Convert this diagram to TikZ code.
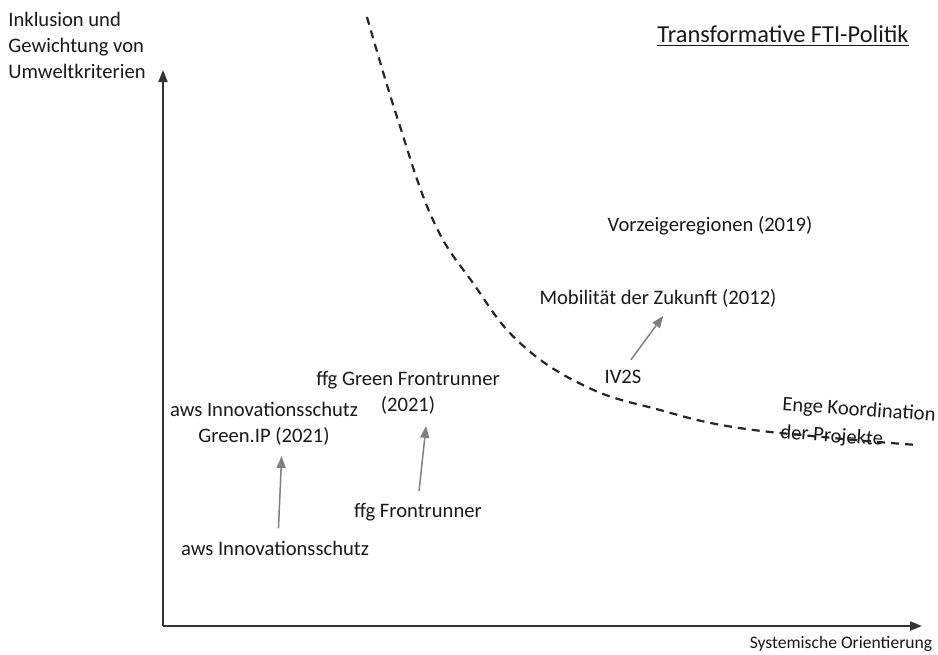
\documentclass[tikz,border=0pt]{standalone}
\usepackage{fontspec}
\setmainfont{Carlito}
\usepackage{tikz}
\usepackage{xcolor}
\usetikzlibrary{arrows.meta, positioning}

\begin{document}
\begin{tikzpicture}[x=0.5pt, y=-0.5pt, font=\fontsize{10.3}{13}\selectfont, text=black!90,
    lbl/.style={align=center, inner sep=1pt},
    axis/.style={line width=1pt, draw=black!80, -{Triangle[length=6pt, width=4.5pt]}},
    move/.style={draw=gray, line width=0.75pt, -{Triangle[length=6pt, width=4.5pt]}}]

        \useasboundingbox (0,0) rectangle (938,654);

        % axes
        \coordinate (O) at (163,626);
        \coordinate (ytop) at (163,70);
        \coordinate (xend) at (922,626);
        \draw[axis] (O) -- (ytop);
        \draw[axis] (O) -- (xend);

        \node[lbl, align=left, anchor=west] (ylab) at (6,45) {Inklusion und\\Gewichtung von\\Umweltkriterien};
        \node[lbl, font=\fontsize{8.8}{11}\selectfont] (xlab) at (841,644) {Systemische Orientierung};
        \node[lbl, font=\fontsize{12.2}{14}\selectfont] (title) at (783,36) {\underline{Transformative FTI-Politik}};

        % programmes
        \node[lbl] (vorz) at (710,226) {Vorzeigeregionen (2019)};
        \node[lbl] (mob) at (658,298) {Mobilität der Zukunft (2012)};
        \node[lbl] (iv2s) at (623,377) {IV2S};
        \node[lbl] (ffggreen) at (408,393) {ffg Green Frontrunner\\(2021)};
        \node[lbl] (ffgfr) at (418,512) {ffg Frontrunner};
        \node[lbl] (awsgreen) at (264,424) {aws Innovationsschutz\\Green.IP (2021)};
        \node[lbl] (awsinno) at (275,548) {aws Innovationsschutz};

        \node[lbl, align=left, anchor=west, rotate=-4, font=\fontsize{10.3}{14}\selectfont] (enge) at (779,419) {Enge Koordination\\der Projekte};

        % frontier
        \draw[line width=1.1pt, dash pattern=on 4pt off 3pt, black!85] plot[smooth, tension=0.7] coordinates {
            (367,17) (397,117) (433,220) (473,283) (520,343) (587,387)
            (660,410) (733,427) (833,438) (917,445)};

        \draw[move, shorten <=5pt, shorten >=4pt] ([xshift=1.5pt]awsinno.north) -- ([xshift=9pt]awsgreen.south);
        \draw[move, shorten <=5pt, shorten >=4.5pt] (ffgfr.north) -- ([xshift=9.5pt]ffggreen.south);
        \draw[move, shorten <=5pt, shorten >=4pt] ([xshift=1pt]iv2s.north) -- ([xshift=5pt]mob.south);

\end{tikzpicture}
\end{document}
